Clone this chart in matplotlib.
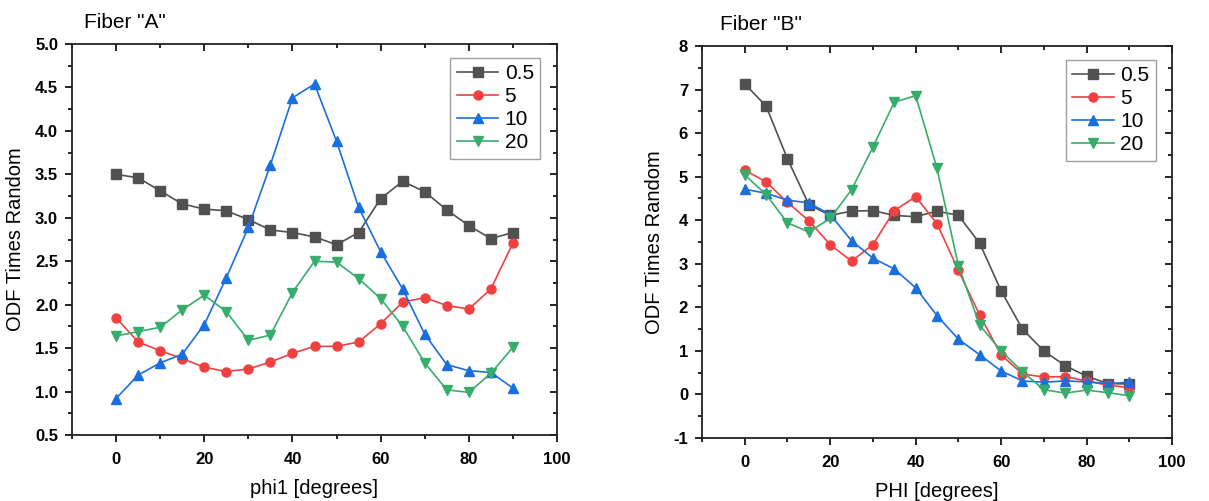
import matplotlib
matplotlib.use("Agg")
import matplotlib.pyplot as plt
from matplotlib.ticker import MultipleLocator, FormatStrFormatter

plt.rcParams['font.family'] = ['Liberation Sans', 'DejaVu Sans']
plt.rcParams['axes.unicode_minus'] = False

angles = [0, 5, 10, 15, 20, 25, 30, 35, 40, 45, 50, 55, 60, 65, 70, 75, 80, 85, 90]
series_names = ["0.5", "5", "10", "20"]

# Fiber "A" (vs phi1)
fiberA_05 = [3.50, 3.46, 3.31, 3.16, 3.10, 3.08, 2.98, 2.86, 2.83, 2.78, 2.69, 2.83, 3.22, 3.42, 3.30, 3.09, 2.91, 2.76, 2.83]
fiberA_5 = [1.85, 1.57, 1.47, 1.38, 1.28, 1.23, 1.26, 1.34, 1.44, 1.52, 1.52, 1.57, 1.78, 2.03, 2.08, 1.99, 1.95, 2.18, 2.71]
fiberA_10 = [0.92, 1.19, 1.33, 1.43, 1.77, 2.31, 2.89, 3.61, 4.38, 4.54, 3.88, 3.12, 2.61, 2.18, 1.66, 1.31, 1.24, 1.22, 1.04]
fiberA_20 = [1.64, 1.69, 1.74, 1.94, 2.11, 1.92, 1.59, 1.65, 2.14, 2.50, 2.49, 2.30, 2.07, 1.75, 1.33, 1.02, 0.99, 1.21, 1.51]

# Fiber "B" (vs PHI)
fiberB_05 = [7.13, 6.62, 5.41, 4.36, 4.11, 4.21, 4.22, 4.11, 4.08, 4.21, 4.11, 3.47, 2.38, 1.50, 1.00, 0.66, 0.42, 0.25, 0.24]
fiberB_5 = [5.15, 4.88, 4.41, 3.99, 3.44, 3.06, 3.44, 4.22, 4.54, 3.92, 2.85, 1.82, 0.91, 0.47, 0.40, 0.41, 0.31, 0.21, 0.16]
fiberB_10 = [4.71, 4.62, 4.46, 4.40, 4.13, 3.53, 3.13, 2.88, 2.45, 1.81, 1.27, 0.91, 0.54, 0.31, 0.28, 0.31, 0.29, 0.25, 0.28]
fiberB_20 = [5.04, 4.59, 3.94, 3.73, 4.04, 4.70, 5.68, 6.71, 6.86, 5.19, 2.96, 1.59, 1.00, 0.52, 0.11, 0.03, 0.10, 0.04, -0.03]

colors = ["#515151", "#F14040", "#1A6FDF", "#37AD6B"]
markers = ["s", "o", "^", "v"]


def draw_panel(ax, data, xlabel, ylim, ymajor, yfmt):
    for vals, name, c, m in zip(data, series_names, colors, markers):
        ms = 6.5 if m in ("s", "o") else 7.5
        ax.plot(angles, vals, color=c, marker=m, markersize=ms, linewidth=1.2, label=name)
    ax.set_xlim(-10, 100)
    ax.set_ylim(*ylim)
    ax.xaxis.set_major_locator(MultipleLocator(20))
    ax.xaxis.set_minor_locator(MultipleLocator(10))
    ax.yaxis.set_major_locator(MultipleLocator(ymajor))
    ax.yaxis.set_minor_locator(MultipleLocator(ymajor / 2))
    ax.yaxis.set_major_formatter(FormatStrFormatter(yfmt))
    for s in ax.spines.values():
        s.set_linewidth(1.3)
        s.set_color("#222222")
    ax.tick_params(which="both", direction="out", top=False, right=False, width=1.2)
    ax.tick_params(which="major", length=5, pad=5)
    ax.tick_params(axis="x", which="major", pad=7)
    ax.tick_params(which="minor", length=3)
    # mirrored ticks on top/right pointing inwards
    sec_x = ax.secondary_xaxis("top")
    sec_x.xaxis.set_major_locator(MultipleLocator(20))
    sec_x.xaxis.set_minor_locator(MultipleLocator(10))
    sec_x.tick_params(which="both", direction="in", labeltop=False, width=1.2)
    sec_x.tick_params(which="major", length=5)
    sec_x.tick_params(which="minor", length=3)
    sec_x.spines["top"].set_visible(False)
    sec_y = ax.secondary_yaxis("right")
    sec_y.yaxis.set_major_locator(MultipleLocator(ymajor))
    sec_y.yaxis.set_minor_locator(MultipleLocator(ymajor / 2))
    sec_y.tick_params(which="both", direction="in", labelright=False, width=1.2)
    sec_y.tick_params(which="major", length=5)
    sec_y.tick_params(which="minor", length=3)
    sec_y.spines["right"].set_visible(False)
    ax.set_xlabel(xlabel, fontsize=14.5, labelpad=9)
    ax.set_ylabel("ODF Times Random", fontsize=14.5, labelpad=7)
    leg = ax.legend(loc="upper right", bbox_to_anchor=(0.965, 0.965), fontsize=15,
                    fancybox=False, handlelength=2.0, handletextpad=0.3,
                    labelspacing=0.2, borderpad=0.3, borderaxespad=0)
    leg.get_frame().set_edgecolor("#888888")
    leg.get_frame().set_linewidth(1.0)


W, H = 1209, 501
fig = plt.figure(figsize=(W / 100, H / 100), dpi=100)
axA = fig.add_axes([72 / W, 1 - 435 / H, 485 / W, 391 / H])
axB = fig.add_axes([702 / W, 1 - 438 / H, 470 / W, 392 / H])

draw_panel(axA, [fiberA_05, fiberA_5, fiberA_10, fiberA_20], "phi1 [degrees]", (0.5, 5.0), 0.5, "%.1f")
draw_panel(axB, [fiberB_05, fiberB_5, fiberB_10, fiberB_20], "PHI [degrees]", (-1, 8), 1, "%d")

fig.text(84 / W, 1 - 22 / H, 'Fiber "A"', fontsize=15, va="center", ha="left")
fig.text(720 / W, 1 - 25 / H, 'Fiber "B"', fontsize=15, va="center", ha="left")

# bold tick labels (set after a draw so every tick label gets it)
fig.canvas.draw()
for ax in (axA, axB):
    for lab in ax.get_xticklabels() + ax.get_yticklabels():
        lab.set_fontweight("bold")
        lab.set_fontsize(12)

fig.savefig("out.png", dpi=100)
